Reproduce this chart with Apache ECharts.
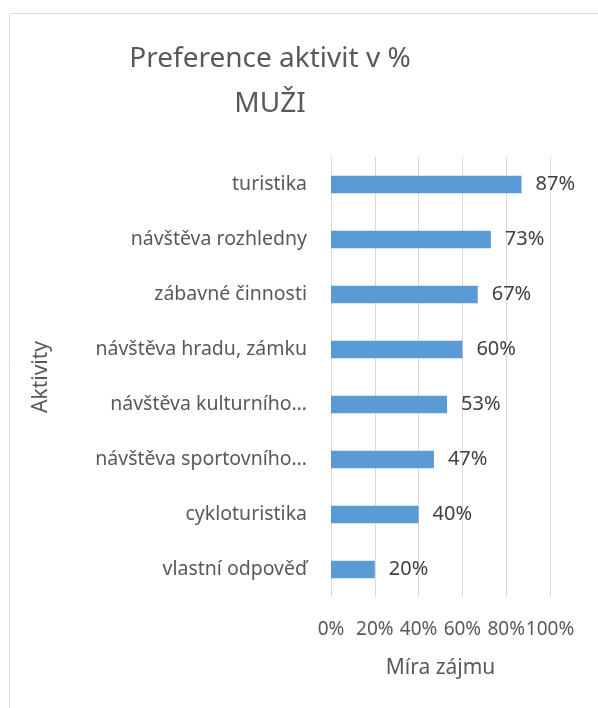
<!DOCTYPE html>
<html>
<head>
<meta charset="utf-8">
<script src="https://cdn.jsdelivr.net/npm/echarts@6/dist/echarts.min.js"></script>
<style>
  html, body { margin: 0; padding: 0; background: #fff; }
  #chart { width: 598px; height: 708px; }
</style>
</head>
<body>
<div id="chart"></div>
<script>
// activities, top to bottom as in the picture
var categories = [
  'turistika',
  'návštěva rozhledny',
  'zábavné činnosti',
  'návštěva hradu, zámku',
  'návštěva kulturního…',
  'návštěva sportovního…',
  'cykloturistika',
  'vlastní odpověď'
];
var values = [87, 73, 67, 60, 53, 47, 40, 20];

var font = 'Noto Sans';

var myChart = echarts.init(document.getElementById('chart'));

var option = {
  backgroundColor: '#fff',
  animation: false,
  title: {
    text: 'Preference aktivit v %\nMUŽI',
    left: 265,
    top: 32,
    textAlign: 'center',
    textStyle: {
      fontFamily: font,
      fontSize: 28,
      fontWeight: 'normal',
      color: '#595959',
      lineHeight: 45
    }
  },
  graphic: [{
    type: 'rect',
    shape: { x: 9.5, y: 13.5, width: 620, height: 720 },
    style: { fill: 'none', stroke: '#d9d9d9', lineWidth: 1 },
    silent: true
  }],
  grid: {
    left: 331,
    right: 48,
    top: 157,
    bottom: 111
  },
  xAxis: {
    type: 'value',
    min: 0,
    max: 100,
    interval: 20,
    name: 'Míra zájmu',
    nameLocation: 'middle',
    nameGap: 61,
    nameTextStyle: { fontFamily: font, fontSize: 21, color: '#595959' },
    axisLine: { show: false },
    axisTick: { show: false },
    axisLabel: {
      formatter: '{value}%',
      margin: 23,
      fontFamily: font,
      fontSize: 19,
      color: '#595959'
    },
    splitLine: { lineStyle: { color: '#d9d9d9', width: 1 } }
  },
  yAxis: {
    type: 'category',
    inverse: true,
    data: categories,
    name: 'Aktivity',
    nameLocation: 'middle',
    nameGap: 279,
    nameRotate: 90,
    nameTextStyle: { fontFamily: font, fontSize: 21, color: '#595959' },
    axisLine: { show: false },
    axisTick: { show: false },
    axisLabel: {
      margin: 24,
      fontFamily: font,
      fontSize: 19.5,
      color: '#595959'
    }
  },
  series: [{
    name: 'Míra zájmu',
    type: 'bar',
    data: values,
    barCategoryGap: '68%',
    itemStyle: { color: '#5b9bd5' },
    label: {
      show: true,
      position: 'right',
      distance: 14,
      formatter: '{c}%',
      fontFamily: font,
      fontSize: 20,
      color: '#404040'
    }
  }]
};

myChart.setOption(option);
</script>
</body>
</html>
